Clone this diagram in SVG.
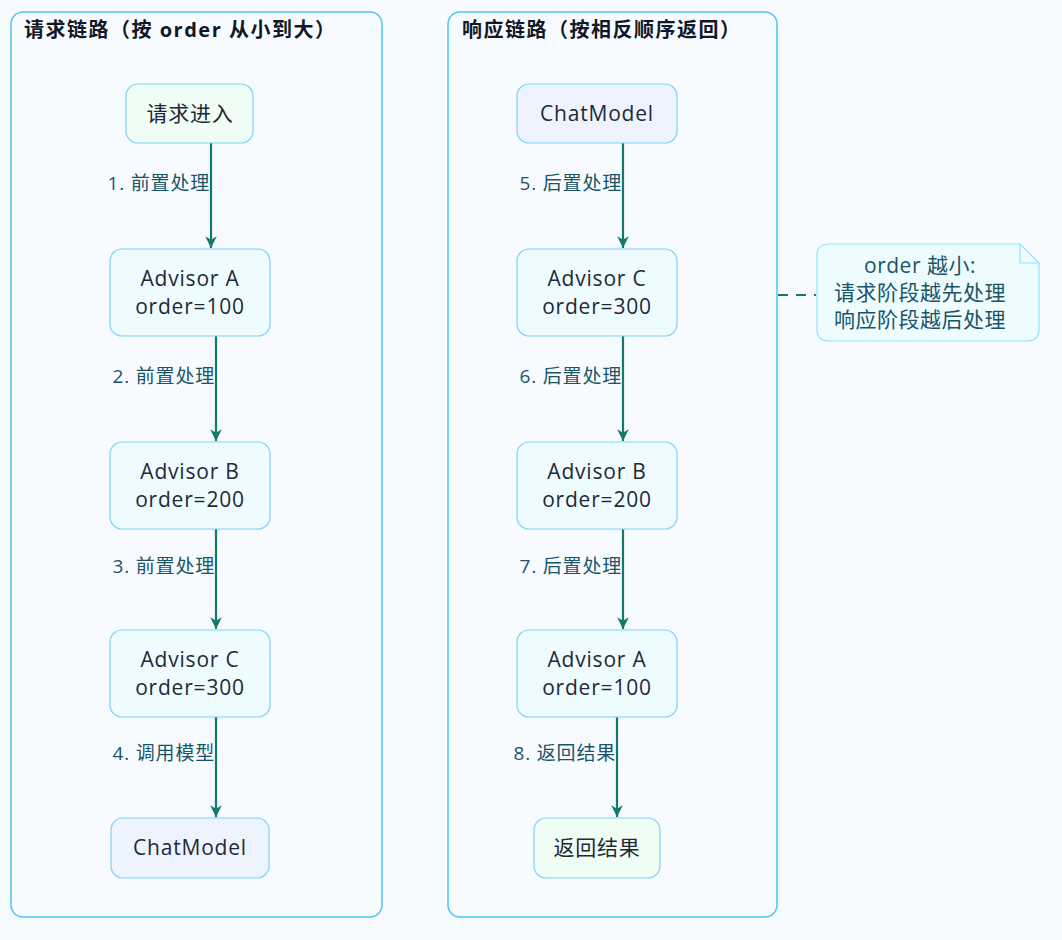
<svg xmlns="http://www.w3.org/2000/svg" width="1062" height="940" viewBox="0 0 1062 940">
<style>
text{font-family:"Open Sans","Noto Sans CJK SC",sans-serif}
.grp{fill:#f7fbff;stroke:#4fc3f7;stroke-width:1.5}
.t{font-size:20px;font-weight:bold;fill:#111827;letter-spacing:1.5px}
.n{stroke:#7fd3f5;stroke-width:1.2}
.adv{fill:#eefcff}.st{fill:#effdf4}.cm{fill:#eef4ff}
.nt{font-size:21px;fill:#1f2937;text-anchor:middle;letter-spacing:0.8px}
.e{stroke:#137a6b;stroke-width:2.2;fill:none;marker-end:url(#a)}
.el{font-size:19px;fill:#1a5566;text-anchor:end;letter-spacing:0.8px}
</style>
<defs><marker id="a" viewBox="0 0 12 12" refX="11" refY="6" markerWidth="14" markerHeight="14" markerUnits="userSpaceOnUse" orient="auto"><path d="M1,1 L11,6 L1,11 L4,6 Z" fill="#137a6b"/></marker></defs>
<rect width="1062" height="940" fill="#f7fbff"/>
<g id="left"><rect class="grp" x="11" y="12" width="371" height="905" rx="12"/><text class="t" x="24" y="37">请求链路（按 order 从小到大）</text></g>
<g id="right"><rect class="grp" x="448" y="12" width="329" height="905" rx="12"/><text class="t" x="462" y="37">响应链路（按相反顺序返回）</text></g>
<g id="connectors">
<line class="e" x1="211" y1="143" x2="211" y2="248"/>
<line class="e" x1="216" y1="336" x2="216" y2="441"/>
<line class="e" x1="216" y1="529" x2="216" y2="629"/>
<line class="e" x1="216" y1="717" x2="216" y2="817"/>
<line class="e" x1="623" y1="143" x2="623" y2="248"/>
<line class="e" x1="623" y1="336" x2="623" y2="441"/>
<line class="e" x1="623" y1="529" x2="623" y2="629"/>
<line class="e" x1="617" y1="717" x2="617" y2="817"/>
<line x1="778" y1="295" x2="816" y2="295" stroke="#137a6b" stroke-width="2" stroke-dasharray="10,8"/>
<text class="el" x="210" y="190">1. 前置处理</text>
<text class="el" x="215" y="383">2. 前置处理</text>
<text class="el" x="215" y="573">3. 前置处理</text>
<text class="el" x="215" y="760">4. 调用模型</text>
<text class="el" x="622" y="190">5. 后置处理</text>
<text class="el" x="622" y="383">6. 后置处理</text>
<text class="el" x="622" y="573">7. 后置处理</text>
<text class="el" x="616" y="760">8. 返回结果</text>
</g>
<g id="n1"><rect class="n st" x="126" y="84" width="127" height="59" rx="12"/><text class="nt" x="190" y="121">请求进入</text></g>
<g id="n2"><rect class="n adv" x="110" y="249" width="160" height="87" rx="12"/><text class="nt" x="190" y="286">Advisor A</text><text class="nt" x="190" y="314">order=100</text></g>
<g id="n3"><rect class="n adv" x="110" y="442" width="160" height="87" rx="12"/><text class="nt" x="190" y="479">Advisor B</text><text class="nt" x="190" y="507">order=200</text></g>
<g id="n4"><rect class="n adv" x="110" y="630" width="160" height="87" rx="12"/><text class="nt" x="190" y="667">Advisor C</text><text class="nt" x="190" y="695">order=300</text></g>
<g id="n5"><rect class="n cm" x="111" y="818" width="158" height="60" rx="12"/><text class="nt" x="190" y="855">ChatModel</text></g>
<g id="m1"><rect class="n cm" x="517" y="84" width="160" height="59" rx="12"/><text class="nt" x="597" y="121">ChatModel</text></g>
<g id="m2"><rect class="n adv" x="517" y="249" width="160" height="87" rx="12"/><text class="nt" x="597" y="286">Advisor C</text><text class="nt" x="597" y="314">order=300</text></g>
<g id="m3"><rect class="n adv" x="517" y="442" width="160" height="87" rx="12"/><text class="nt" x="597" y="479">Advisor B</text><text class="nt" x="597" y="507">order=200</text></g>
<g id="m4"><rect class="n adv" x="517" y="630" width="160" height="87" rx="12"/><text class="nt" x="597" y="667">Advisor A</text><text class="nt" x="597" y="695">order=100</text></g>
<g id="m5"><rect class="n st" x="534" y="818" width="126" height="60" rx="12"/><text class="nt" x="597" y="855">返回结果</text></g>
<g id="note">
<path d="M829,244 H1020 L1039,263 V329 Q1039,341 1027,341 H829 Q817,341 817,329 V256 Q817,244 829,244 Z" fill="#eefcff" stroke="#8fe3f8" stroke-width="1.2"/>
<path d="M1020,244 V263 H1039" fill="none" stroke="#8fe3f8" stroke-width="1.2"/>
<g font-size="21" fill="#1a5566" text-anchor="middle" letter-spacing="0.5"><text x="920" y="273">order 越小:</text><text x="920" y="300">请求阶段越先处理</text><text x="920" y="327">响应阶段越后处理</text></g>
</g>
</svg>
